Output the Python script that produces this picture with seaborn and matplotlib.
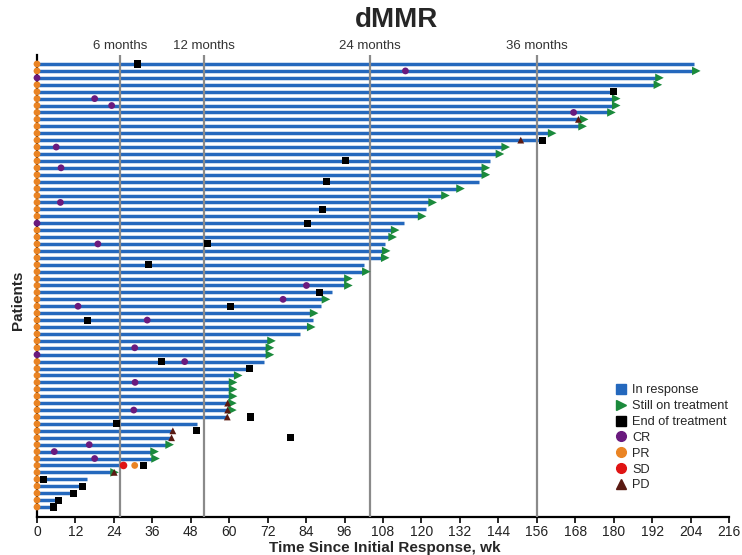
import matplotlib
matplotlib.use("Agg")
import matplotlib.pyplot as plt
import matplotlib.transforms as mtransforms
from matplotlib.lines import Line2D
import seaborn as sns
import pandas as pd
import numpy as np

# ---------------- data (weeks since initial response), patient 0 = top row ----------------
bar_end = [205, 205, 193.5, 193, 180, 180, 180, 178.5, 170, 169.5,
           160, 157.7, 145.5, 143.7, 141.5, 139.3, 139.3, 138, 131.4, 126.7,
           122.7, 121.3, 119.4, 114.5, 111, 110.2, 108.6, 108.2, 107.9, 102.2,
           102, 96.4, 96.4, 92, 89.4, 88.6, 85.7, 86, 84.8, 82.1,
           72.4, 71.9, 71.9, 71, 66.3, 62, 60.4, 60.4, 60.4, 60.2,
           60.2, 59.4, 50, 42.4, 42, 40.6, 35.9, 36.2, 27, 23.4,
           15.7, 14.2, 11.4, 6.7, 5.1]
still_on_rows = [1, 2, 3, 5, 6, 7, 8, 9, 10, 12, 13, 15, 16, 18, 19, 20, 22, 24, 25,
                 27, 28, 30, 31, 32, 34, 36, 38, 40, 41, 42, 45, 46, 47, 48, 49, 50,
                 55, 56, 57, 59]
eot_rows = [0, 4, 11, 14, 17, 21, 23, 26, 29, 33, 35, 37, 43, 44, 51, 52, 53, 54,
            58, 60, 61, 62, 63, 64]
eot_x = [31.3, 180, 157.7, 96.2, 90.4, 89.2, 84.4, 53.3, 34.8, 88.2, 60.4, 15.7,
         38.9, 66.3, 66.5, 24.9, 49.8, 79.2, 33.1, 2, 14.2, 11.4, 6.7, 5.1]
cr_rows = [1, 2, 5, 6, 7, 12, 15, 20, 23, 26, 32, 34, 35, 37, 41, 42, 43, 46, 50,
           55, 56, 57]
cr_x = [115, 0, 18, 23.3, 167.5, 6, 7.5, 7.3, 0, 19, 84.1, 76.8, 12.8, 34.4, 30.5,
        0, 46.1, 30.6, 30.2, 16.3, 5.4, 18]
pr_extra_rows = [58]
pr_extra_x = [30.5]
sd_rows = [58]
sd_x = [27]
pd_rows = [8, 11, 49, 50, 51, 53, 54, 59]
pd_x = [169, 151, 59.5, 59.5, 59.4, 42.4, 42, 24.1]
ref_weeks = [26, 52, 104, 156]
ref_labels = ["6 months", "12 months", "24 months", "36 months"]
x_ticks = list(range(0, 217, 12))

n = len(bar_end)
cr_at_zero = [r for r, x in zip(cr_rows, cr_x) if x == 0]
pr_rows = [r for r in range(n) if r not in cr_at_zero] + pr_extra_rows
pr_x = [0] * (n - len(cr_at_zero)) + pr_extra_x

def ypos(rows):
    return [n - 1 - r for r in rows]

sns.set_theme(style="white")
plt.rcParams['font.family'] = ['Liberation Sans', 'DejaVu Sans']

fig = plt.figure(figsize=(7.42, 5.55), dpi=100)
ax = fig.add_axes([37 / 742, 1 - 517 / 555, (729 - 37) / 742, (517 - 55) / 555])

BLUE = "#2468bd"
GREEN = "#1b8a3c"
PURPLE = "#6a1a7e"
ORANGE = "#ea8424"
RED = "#e01414"
BROWN = "#5a1a12"

# bars
ax.hlines(ypos(range(n)), 0, bar_end, color=BLUE, lw=2.5, zorder=2)

# reference lines
trans = mtransforms.blended_transform_factory(ax.transData, ax.transAxes)
for w, lab in zip(ref_weeks, ref_labels):
    ax.axvline(w, color="#8a8a8a", lw=1.6, zorder=3)
    ax.text(w, 1.006, lab, transform=trans, ha="center", va="bottom",
            fontsize=9.5, color="#333333")

def scatter(xs, rows, marker, color, size, z=5):
    df = pd.DataFrame({"x": xs, "y": ypos(rows)})
    sns.scatterplot(data=df, x="x", y="y", marker=marker, color=color, s=size,
                    edgecolor="none", linewidth=0, ax=ax, zorder=z, clip_on=False)

scatter([bar_end[r] + 0.8 for r in still_on_rows], still_on_rows, ">", GREEN, 38, 5)
scatter(pr_x, pr_rows, "o", ORANGE, 24, 6)
scatter(cr_x, cr_rows, "o", PURPLE, 24, 7)
scatter(sd_x, sd_rows, "o", RED, 30, 7)
scatter(pd_x, pd_rows, "^", BROWN, 24, 7)
scatter(eot_x, eot_rows, "s", "black", 26, 8)

ax.set_xlim(0, 216)
ax.set_ylim(-1.45, n - 1 + 1.3)
ax.set_xticks(x_ticks)
ax.set_xticklabels([str(t) for t in x_ticks], fontsize=10, color="#222222")
ax.set_yticks([])
ax.set_xlabel("Time Since Initial Response, wk", fontsize=11, fontweight="bold")
ax.xaxis.set_label_coords(0.502, -0.052)
ax.xaxis.label.set_va("top")
ax.set_ylabel("Patients", fontsize=11, fontweight="bold")
ax.yaxis.set_label_coords(-0.017, 0.47)
for s in ["top", "right"]:
    ax.spines[s].set_visible(False)
for s in ["left", "bottom"]:
    ax.spines[s].set_color("black")
    ax.spines[s].set_linewidth(1.6)
ax.tick_params(axis="x", direction="out", length=4, width=1.2, color="black", bottom=True, pad=2)

fig.text(396 / 742, 1 - 20 / 555, "dMMR", ha="center", va="center",
         fontsize=20, fontweight="bold")

handles = [
    Line2D([], [], ls="none", marker="s", color=BLUE, markersize=7, label="In response"),
    Line2D([], [], ls="none", marker=">", color=GREEN, markersize=7, label="Still on treatment"),
    Line2D([], [], ls="none", marker="s", color="black", markersize=7, label="End of treatment"),
    Line2D([], [], ls="none", marker="o", color=PURPLE, markersize=7, label="CR"),
    Line2D([], [], ls="none", marker="o", color=ORANGE, markersize=7, label="PR"),
    Line2D([], [], ls="none", marker="o", color=RED, markersize=7, label="SD"),
    Line2D([], [], ls="none", marker="^", color=BROWN, markersize=7, label="PD"),
]
ax.legend(handles=handles, loc="upper left", bbox_to_anchor=(608 / 742, 1 - 378 / 555),
          bbox_transform=fig.transFigure, frameon=False, fontsize=9.2,
          handletextpad=0.3, labelspacing=0.3, borderpad=0, handlelength=1.1)

fig.savefig("out.png", dpi=100)
